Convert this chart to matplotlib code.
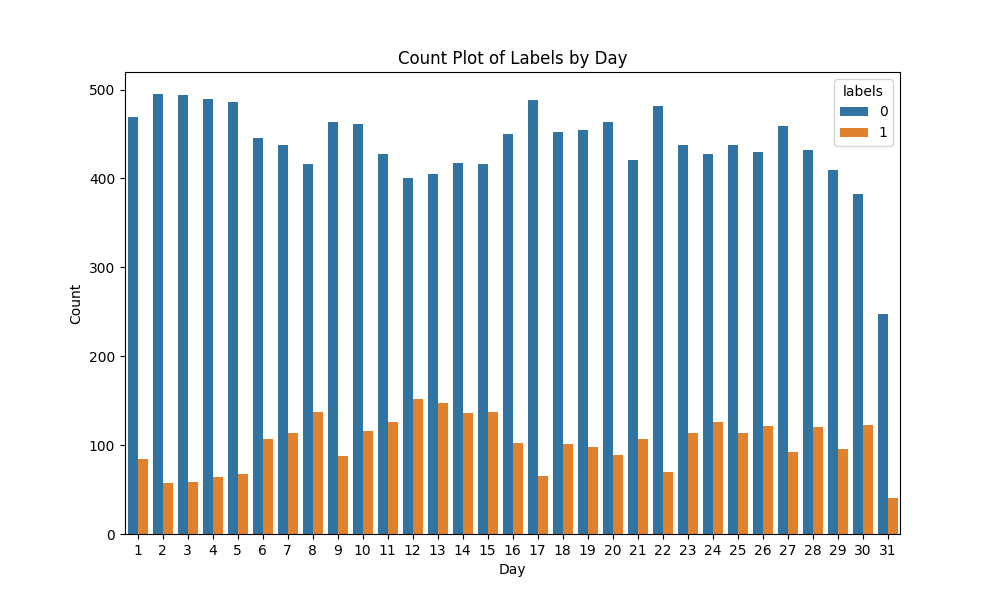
import matplotlib
matplotlib.use('Agg')
import matplotlib.pyplot as plt
import numpy as np

days = list(range(1, 32))
label0 = [469, 495, 494, 489, 486, 446, 438, 416, 464, 461, 427, 401, 405, 417, 416, 450,
          488, 452, 455, 464, 421, 482, 438, 427, 438, 430, 459, 432, 409, 382, 248]
label1 = [84, 57, 59, 64, 68, 107, 114, 137, 88, 116, 126, 152, 147, 136, 137, 102,
          65, 101, 98, 89, 107, 70, 114, 126, 114, 122, 92, 120, 96, 123, 41]

fig, ax = plt.subplots(figsize=(10, 6), dpi=100)
x = np.arange(len(days))
w = 0.4
ax.bar(x - w / 2, label0, width=w, color='#3274a1', label='0')
ax.bar(x + w / 2, label1, width=w, color='#e1812c', label='1')
ax.set_xticks(x)
ax.set_xticklabels([str(d) for d in days])
ax.set_xlim(-0.5, len(days) - 0.5)
ax.set_xlabel('Day')
ax.set_ylabel('Count')
ax.set_title('Count Plot of Labels by Day')
ax.legend(title='labels', loc='upper right')
fig.savefig('out.png')
